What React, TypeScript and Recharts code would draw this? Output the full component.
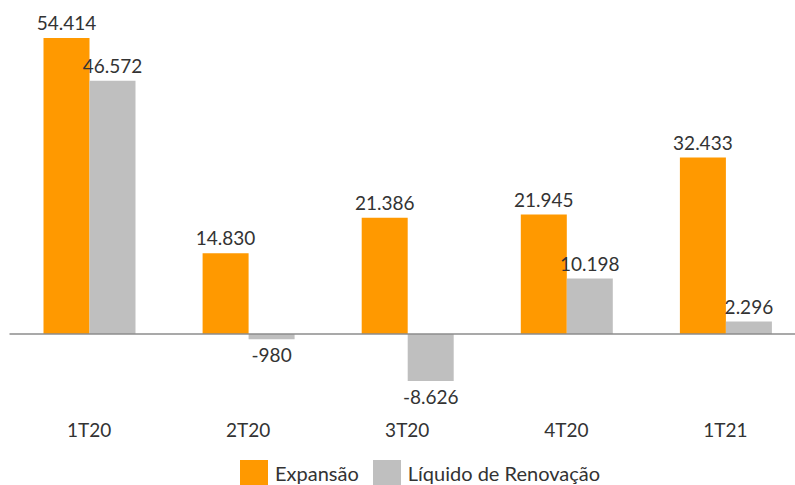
import React from 'react';
import { BarChart, Bar, XAxis, YAxis, ReferenceLine, LabelList } from 'recharts';

const quarters = ['1T20', '2T20', '3T20', '4T20', '1T21'];
const expansao = [54414, 14830, 21386, 21945, 32433];
const liquidoRenovacao = [46572, -980, -8626, 10198, 2296];

const data = quarters.map((q, i) => ({
  quarter: q,
  expansao: expansao[i],
  liquido: liquidoRenovacao[i],
}));

const FONT = 'Lato, "Open Sans", sans-serif';
const TEXT = '#333333';

const fmt = (v: number) => {
  const s = Math.abs(v).toLocaleString('de-DE');
  return v < 0 ? `-${s}` : s;
};

function ValueLabel(props: any) {
  const { x, y, width, height, value } = props;
  const top = Math.min(y, y + height);
  const bottom = Math.max(y, y + height);
  const ty = value >= 0 ? top - 8 : bottom + 23;
  return (
    <text x={x + width / 2} y={ty} textAnchor="middle" fill={TEXT} fontSize={19} fontFamily={FONT}>
      {fmt(value)}
    </text>
  );
}

function QuarterTick(props: any) {
  const { x, payload } = props;
  return (
    <text x={x} y={437} textAnchor="middle" fill={TEXT} fontSize={19} fontFamily={FONT}>
      {payload.value}
    </text>
  );
}

const legendItems = [
  { label: 'Expansão', color: '#FF9900' },
  { label: 'Líquido de Renovação', color: '#BFBFBF' },
];

export default function App() {
  return (
    <div style={{ position: 'absolute', left: 0, top: 0, width: 795, height: 485, overflow: 'hidden', background: '#fff' }}>
      <BarChart
        width={805}
        height={485}
        data={data}
        margin={{ top: 7.6, right: 0, left: 9.5, bottom: 66.6 }}
        barGap={0}
        barSize={46}
      >
        <XAxis dataKey="quarter" height={30} axisLine={false} tickLine={false} tick={<QuarterTick />} interval={0} />
        <YAxis hide domain={[-10000, 60000]} />
        <ReferenceLine y={0} stroke="#8c8c8c" strokeWidth={1.5} />
        <Bar dataKey="expansao" name="Expansão" fill="#FF9900" isAnimationActive={false}>
          <LabelList dataKey="expansao" content={<ValueLabel />} />
        </Bar>
        <Bar dataKey="liquido" name="Líquido de Renovação" fill="#BFBFBF" isAnimationActive={false}>
          <LabelList dataKey="liquido" content={<ValueLabel />} />
        </Bar>
      </BarChart>
      <div
        style={{
          position: 'absolute',
          top: 460,
          left: 240,
          display: 'flex',
          alignItems: 'flex-start',
          fontFamily: FONT,
          fontSize: 20,
          lineHeight: '26px',
          color: TEXT,
        }}
      >
        {legendItems.map((it) => (
          <div key={it.label} style={{ display: 'flex', alignItems: 'flex-start', marginRight: 14 }}>
            <span style={{ width: 28, height: 28, background: it.color, display: 'inline-block', marginRight: 7 }} />
            <span>{it.label}</span>
          </div>
        ))}
      </div>
    </div>
  );
}
